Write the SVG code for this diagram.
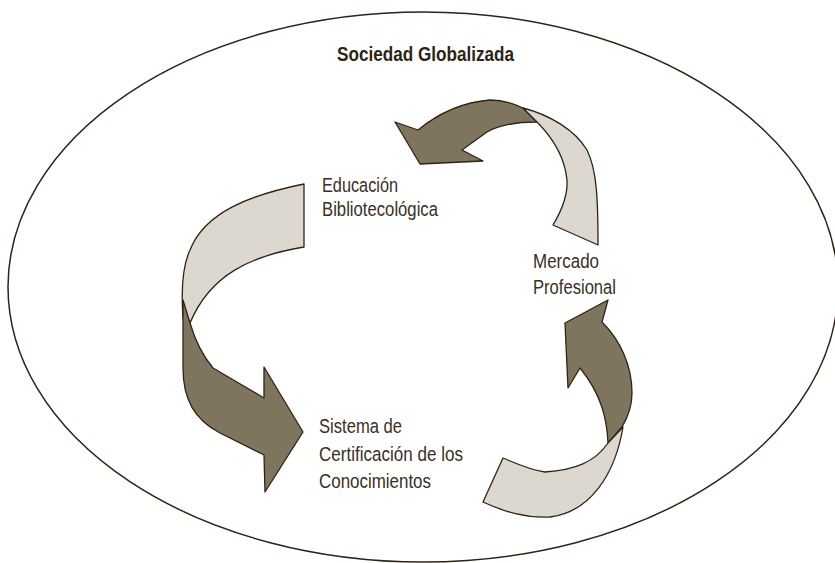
<svg xmlns="http://www.w3.org/2000/svg" width="835" height="563" viewBox="0 0 835 563">
<style>
.bg{fill:#ffffff}
.ell{fill:none;stroke:#2e2414;stroke-width:1.5}
.dark{fill:#7f755f;stroke:#2e2414;stroke-width:1.3;stroke-linejoin:round}
.light{fill:#dcd8cf;stroke:#2e2414;stroke-width:1.3;stroke-linejoin:round}
.t{font-family:"Liberation Sans Narrow","Liberation Sans",Arial,sans-serif;font-size:20.5px;fill:#3a2f24}
.tb{font-family:"Liberation Sans Narrow","Liberation Sans",Arial,sans-serif;font-size:19.5px;font-weight:bold;fill:#2e2414}
</style>
<rect class="bg" x="0" y="0" width="835" height="563"/>
<g id="sociedad">
<ellipse class="ell" cx="423" cy="287" rx="415" ry="275"/>
<text class="tb" x="337" y="61" textLength="177" lengthAdjust="spacingAndGlyphs">Sociedad Globalizada</text>
</g>
<g id="connectors">
<g id="arrow-educacion-sistema">
<path class="light" d="M304,184 L304,247 C250,256 210,275 190,323 L183,318 C181,290 183,265 190,250 C205,212 250,195 304,184 Z"/>
<path class="dark" d="M183,300 L183,368 C183,400 195,420 220,433 L264,455 L265,492 L303,432 L264,367 L264,398 L213,368 C203,356 195,340 190,323 Z"/>
</g>
<g id="arrow-mercado-educacion">
<path class="dark" d="M395,122 L418,130 C440,112 465,102 490,100 C505,100 515,104 523,108 L537,122 C515,122 497,126 487,132 L462,150 L483,161 L420,164 Z"/>
<path class="light" d="M523,108 C550,115 575,130 587,150 C597,170 598,200 598,245 L553,225 C562,210 568,195 567,180 C565,160 555,140 537,122 Z"/>
</g>
<g id="arrow-sistema-mercado">
<path class="dark" d="M608,300 L602,322 C620,340 632,365 632,393 C632,405 628,417 622,427 L608,443 C607,420 602,395 580,368 L568,388 L565,323 Z"/>
<path class="light" d="M608,443 C595,462 575,470 545,472 C530,470 515,463 503,458 L483,502 C505,512 525,518 550,517 C590,512 615,475 623,427 Z"/>
</g>
</g>
<g id="educacion">
<text class="t" x="322" y="192" textLength="76" lengthAdjust="spacingAndGlyphs">Educación</text>
<text class="t" x="322" y="216" textLength="116" lengthAdjust="spacingAndGlyphs">Bibliotecológica</text>
</g>
<g id="mercado">
<text class="t" x="533" y="268" textLength="66" lengthAdjust="spacingAndGlyphs">Mercado</text>
<text class="t" x="533" y="294" textLength="83" lengthAdjust="spacingAndGlyphs">Profesional</text>
</g>
<g id="sistema">
<text class="t" x="319" y="433" textLength="83" lengthAdjust="spacingAndGlyphs">Sistema de</text>
<text class="t" x="319" y="461" textLength="144" lengthAdjust="spacingAndGlyphs">Certificación de los</text>
<text class="t" x="319" y="488" textLength="112" lengthAdjust="spacingAndGlyphs">Conocimientos</text>
</g>
</svg>
